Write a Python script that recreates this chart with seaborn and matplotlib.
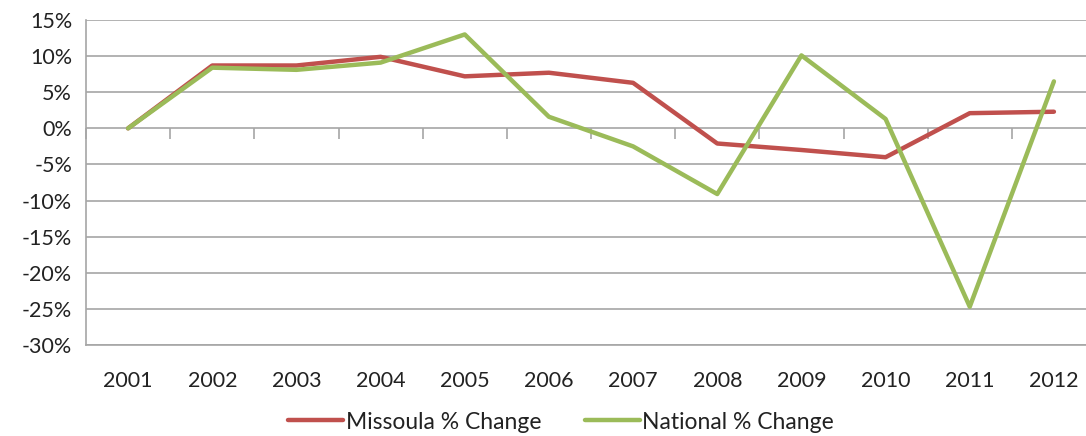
import pandas as pd
import matplotlib
matplotlib.use("Agg")
import matplotlib.pyplot as plt
import matplotlib.ticker as mticker
import seaborn as sns

# Data (percent change per year)
years = [2001, 2002, 2003, 2004, 2005, 2006, 2007, 2008, 2009, 2010, 2011, 2012]
missoula = [0.0, 8.7, 8.7, 9.9, 7.2, 7.7, 6.3, -2.1, -3.0, -4.0, 2.1, 2.3]
national = [0.0, 8.4, 8.1, 9.1, 13.0, 1.6, -2.5, -9.1, 10.1, 1.3, -24.7, 6.5]
series_names = ["Missoula % Change", "National % Change"]
yticks = [15, 10, 5, 0, -5, -10, -15, -20, -25, -30]

df = pd.DataFrame({"year": years * 2,
                   "value": missoula + national,
                   "series": [series_names[0]] * len(years) + [series_names[1]] * len(years)})

sns.set_style("white")
plt.rcParams["font.family"] = ["Lato", "DejaVu Sans"]

fig = plt.figure(figsize=(10.86, 4.36), dpi=100)
ax = fig.add_axes([86 / 1086, 1 - 345 / 436, (1096 - 86) / 1086, (345 - 20) / 436])

grid_c = "#A6A6A6"
sns.lineplot(data=df, x="year", y="value", hue="series",
             palette=["#C0504D", "#9BBB59"], linewidth=3.2, ax=ax,
             solid_capstyle="round", legend=True)

ax.set_xlim(2000.5, 2012.5)
ax.set_ylim(-30, 15)
ax.set_yticks(yticks)
ax.yaxis.set_major_formatter(mticker.FuncFormatter(lambda v, p: f"{v:.0f}%"))
ax.set_xticks(years)
ax.set_xticklabels([str(y) for y in years])
ax.set_xlabel("")
ax.set_ylabel("")

ax.grid(axis="y", color=grid_c, linewidth=1.2)
ax.set_axisbelow(True)
for s in ["top", "right"]:
    ax.spines[s].set_visible(False)
ax.spines["left"].set_color(grid_c)
ax.spines["left"].set_linewidth(1.2)
ax.spines["bottom"].set_color(grid_c)
ax.spines["bottom"].set_linewidth(1.2)

ax.tick_params(axis="y", length=6, width=1.2, color=grid_c, labelsize=15.5,
               labelcolor="#222222", pad=4)
ax.tick_params(axis="x", length=0, labelsize=15.5, labelcolor="#222222", pad=19)

# category axis drawn at 0% with tick marks between years
zero_frac = (0 - (-30)) / 45
sec = ax.secondary_xaxis(zero_frac)
sec.set_xticks([y + 0.5 for y in years[:-1]] + [2000.5])
sec.tick_params(axis="x", length=8, width=1.2, color=grid_c, labelbottom=False,
                labeltop=False, direction="out")
sec.xaxis.set_ticks_position("bottom")
sec.spines["bottom"].set_color(grid_c)
sec.spines["bottom"].set_linewidth(1.2)
sec.spines["top"].set_visible(False)
sec.set_xticklabels([])

handles, labels = ax.get_legend_handles_labels()
ax.legend(handles, labels, loc="center", bbox_to_anchor=(561 / 1086, 14 / 436),
          bbox_transform=fig.transFigure, ncol=2, frameon=False, fontsize=16.5,
          handlelength=2.4, handletextpad=0.1, columnspacing=1.9, labelcolor="#222222")

fig.savefig("out.png", dpi=100)
